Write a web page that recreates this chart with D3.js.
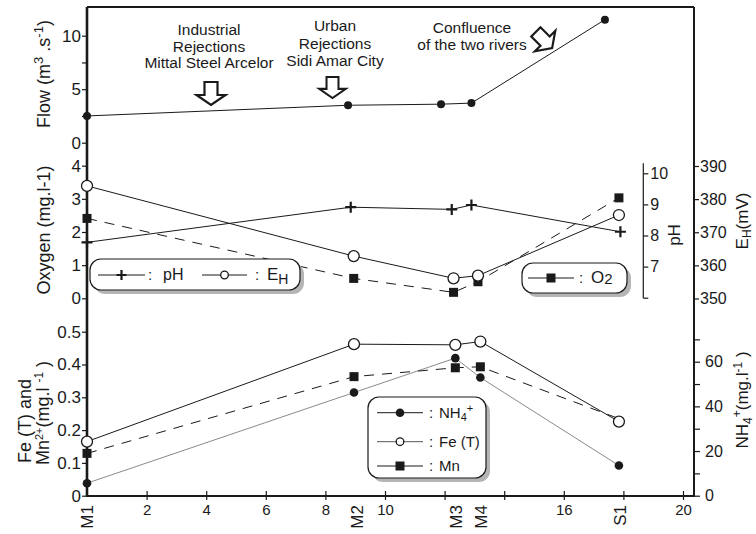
<!DOCTYPE html>
<html><head><meta charset="utf-8">
<script src="https://cdn.jsdelivr.net/npm/d3@7"></script>
<style>body{margin:0;background:#fff}svg{display:block;font-family:"Liberation Sans",Arial,sans-serif}</style>
</head><body><svg id="c" width="756" height="534"></svg>
<script>
// ---------- data ----------
const stations = ["M1","M2","M3","M4","S1"];
const stationLabelPos = [0, 9.05, 12.38, 13.22, 17.88];
const xTickValues = [0,2,4,6,8,10,12,14,16,18,20];
const xTickLabels = ["","2","4","6","8","10","","","16","","20"];

const flowPos = [0, 8.76, 11.88, 12.9, 17.38];
const flow    = [2.5, 3.5, 3.6, 3.7, 11.5];

const pHPos   = [0, 8.85, 12.24, 12.9, 17.9];
const pH      = [7.78, 8.91, 8.84, 8.98, 8.12];
const midPos  = [0, 8.95, 12.3, 13.12, 17.85];
const eh      = [384, 362.8, 356.1, 356.9, 375.2];
const o2      = [2.41, 0.6, 0.18, 0.5, 3.03];

const lowPos  = [0, 8.96, 12.36, 13.2, 17.85];
const nh4     = [5.6, 46.2, 61.6, 52.9, 13.5];
const feT     = [0.165, 0.462, 0.46, 0.47, 0.226];
const mn      = [0.129, 0.363, 0.39, 0.393, 0.235];
const mnMarker = [true, true, true, true, false];

const flowTicks = [0, 2.5, 5, 7.5, 10];
const oxyTicks = [0,1,2,3,4];
const feTicks = [0,0.1,0.2,0.3,0.4,0.5];
const ehTicks = [350,360,370,380,390];
const pHTicks = [6,7,8,9,10];
const nh4Ticks = [0,10,20,30,40,50,60,70];

// ---------- layout ----------
const svg = d3.select("#c");
const L = 87, R = 694, T = 7, B = 496;
const ink = "#1a1a1a";

const x = d3.scaleLinear().domain([0,20]).range([L, 683]);
const yFlow = d3.scaleLinear().domain([0,10]).range([142.7, 35.7]);
const yOxy = d3.scaleLinear().domain([0,4]).range([298.3, 165.7]);
const yEh = d3.scaleLinear().domain([350,390]).range([298.5, 166]);
const yPH = d3.scaleLinear().domain([6,10]).range([297.7, 173.3]);
const yFe = d3.scaleLinear().domain([0,0.5]).range([495.7, 331.7]);
const yNh = d3.scaleLinear().domain([0,60]).range([495.7, 361.7]);

function styleAxis(g, fs){
  g.select(".domain").remove();
  g.selectAll("line").attr("stroke", ink).attr("stroke-width", 1.2);
  g.selectAll("text").attr("fill", ink).style("font-size", fs+"px").style("font-family","Liberation Sans, Arial, sans-serif");
}

// left axes
svg.append("g").attr("transform",`translate(${L},0)`)
  .call(d3.axisLeft(yFlow).tickValues(flowTicks).tickSize(5).tickPadding(1)
    .tickFormat(d => d%5===0 ? d : ""))
  .call(g => styleAxis(g, 17));
svg.append("g").attr("transform",`translate(${L},0)`)
  .call(d3.axisLeft(yOxy).tickValues(oxyTicks).tickSize(5).tickPadding(1)
    .tickFormat(d3.format("d")))
  .call(g => styleAxis(g, 17));
svg.append("g").attr("transform",`translate(${L},0)`)
  .call(d3.axisLeft(yFe).tickValues(feTicks).tickSize(5).tickPadding(1)
    .tickFormat(d => d===0 ? "0" : d.toFixed(1)))
  .call(g => styleAxis(g, 17));

// right axes
svg.append("g").attr("transform",`translate(${R},0)`)
  .call(d3.axisRight(yEh).tickValues(ehTicks).tickSize(5).tickPadding(1)
    .tickFormat(d3.format("d")))
  .call(g => styleAxis(g, 16));
svg.append("g").attr("transform",`translate(${R},0)`)
  .call(d3.axisRight(yNh).tickValues(nh4Ticks).tickSize(6).tickPadding(5)
    .tickFormat(d => d%20===0 ? d : ""))
  .call(g => styleAxis(g, 16));
// pH axis (inner)
svg.append("line").attr("x1",643.3).attr("x2",643.3).attr("y1",163.3).attr("y2",298.3)
  .attr("stroke",ink).attr("stroke-width",1.2);
svg.append("g").attr("transform",`translate(643.3,0)`)
  .call(d3.axisRight(yPH).tickValues(pHTicks).tickSize(5).tickPadding(2)
    .tickFormat(d => d===6 ? "" : d))
  .call(g => styleAxis(g, 16));

// bottom axis
const xa = svg.append("g").attr("transform",`translate(0,${B})`)
  .call(d3.axisBottom(x).tickValues(xTickValues).tickSizeInner(-5).tickSizeOuter(0).tickPadding(8)
    .tickFormat((d,i) => xTickLabels[i]))
  .call(g => styleAxis(g, 15));
xa.selectAll(".tick").append("line").attr("y1",0).attr("y2",4).attr("stroke",ink).attr("stroke-width",1.2);
xa.selectAll(".tick line").filter((d)=>d===0).attr("opacity",0);

// station labels
svg.append("g").selectAll("text").data(stations).join("text")
  .attr("transform",(d,i)=>`translate(${x(stationLabelPos[i])},505) rotate(-90)`)
  .attr("text-anchor","end").attr("dy","0.36em")
  .style("font-size","17px").attr("fill",ink).text(d=>d);

// frame
svg.append("line").attr("x1",L).attr("x2",L).attr("y1",T).attr("y2",B+1).attr("stroke",ink).attr("stroke-width",2.6);
svg.append("line").attr("x1",L).attr("x2",R).attr("y1",T).attr("y2",T).attr("stroke",ink).attr("stroke-width",2);
svg.append("line").attr("x1",R).attr("x2",R).attr("y1",T).attr("y2",B+1).attr("stroke",ink).attr("stroke-width",2);
svg.append("line").attr("x1",L).attr("x2",R).attr("y1",B).attr("y2",B).attr("stroke",ink).attr("stroke-width",2);

// ---------- series helpers ----------
function drawLine(pos, vals, y, opts){
  const pts = vals.map((v,i)=>[x(pos[i]), y(v)]);
  svg.append("path").attr("d", d3.line()(pts)).attr("fill","none")
    .attr("stroke", opts.color || ink).attr("stroke-width", opts.w || 1)
    .attr("stroke-dasharray", opts.dash || null);
  return pts;
}
function markers(pts, type, size, show){
  const g = svg.append("g");
  pts.forEach((p,i)=>{
    if (show && !show[i]) return;
    drawMarker(g, p[0], p[1], type, size);
  });
}
function drawMarker(g, cx, cy, type, size){
  if (type==="dot") g.append("circle").attr("cx",cx).attr("cy",cy).attr("r",size).attr("fill",ink);
  else if (type==="open") g.append("circle").attr("cx",cx).attr("cy",cy).attr("r",size).attr("fill","#fff").attr("stroke",ink).attr("stroke-width",1.3);
  else if (type==="square") g.append("rect").attr("x",cx-size/2).attr("y",cy-size/2).attr("width",size).attr("height",size).attr("fill",ink);
  else if (type==="cross"){
    g.append("path").attr("d",`M${cx-size/2},${cy}H${cx+size/2}M${cx},${cy-size/2}V${cy+size/2}`)
      .attr("stroke",ink).attr("stroke-width",2.2);
  }
}

// flow
markers(drawLine(flowPos, flow, yFlow, {w:1}), "dot", 4);
// middle
const pE = drawLine(midPos, eh, yEh, {w:1});
const pO = drawLine(midPos, o2, yOxy, {w:1, dash:"10,8"});
const pP = drawLine(pHPos, pH, yPH, {w:1});
markers(pO, "square", 9);
markers(pE, "open", 5.5);
markers(pP, "cross", 11);
// bottom
const pN = drawLine(lowPos, nh4, yNh, {w:1, color:"#8a8a8a"});
const pF = drawLine(lowPos, feT, yFe, {w:1});
const pM = drawLine(lowPos, mn, yFe, {w:1, dash:"10,8"});
markers(pM, "square", 9, mnMarker);
markers(pN, "dot", 4.3);
markers(pF, "open", 5.5);

// ---------- legends ----------
function box(x0,y0,w,h){
  svg.append("rect").attr("x",x0+4).attr("y",y0+4).attr("width",w).attr("height",h).attr("rx",11)
    .attr("fill","#b5b5b5");
  svg.append("rect").attr("x",x0).attr("y",y0).attr("width",w).attr("height",h).attr("rx",11)
    .attr("fill","#fff").attr("stroke",ink).attr("stroke-width",1.2);
}
function entry(x1,x2,yy,type,size,color){
  const g = svg.append("g");
  g.append("line").attr("x1",x1).attr("x2",x2).attr("y1",yy).attr("y2",yy).attr("stroke",color||ink).attr("stroke-width",1);
  drawMarker(g,(x1+x2)/2,yy,type,size);
  return g;
}
box(90,259,210,31);
entry(98,145,275,"cross",10);
svg.append("text").attr("x",148).attr("y",280).style("font-size","15px").attr("fill",ink).text(":");
svg.append("text").attr("x",163).attr("y",280).style("font-size","16px").attr("fill",ink).text("pH");
entry(202,247,275,"open",3.8);
svg.append("text").attr("x",255).attr("y",280).style("font-size","15px").attr("fill",ink).text(":");
svg.append("text").attr("x",267).attr("y",280).style("font-size","17px").attr("fill",ink)
  .call(t=>{t.append("tspan").text("E"); t.append("tspan").attr("dy",4).style("font-size","14px").text("H");});

box(522,263,105,30);
entry(528,574,278,"square",9);
svg.append("text").attr("x",579).attr("y",283).style("font-size","15px").attr("fill",ink).text(":");
svg.append("text").attr("x",591).attr("y",283).style("font-size","17px").attr("fill",ink)
  .call(t=>{t.append("tspan").text("O"); t.append("tspan").attr("dy",1).style("font-size","15px").text("2");});

box(368,397,118,81);
entry(377,423,412.7,"dot",4.3);
entry(377,423,441.7,"open",3.8,"#555");
entry(377,423,466,"square",9);
[[412.7,"nh"],[441.7,"Fe (T)"],[466,"Mn"]].forEach(([yy,lab])=>{
  svg.append("text").attr("x",429).attr("y",yy+5).style("font-size","15px").attr("fill",ink).text(":");
  const t = svg.append("text").attr("x",439).attr("y",yy+5).style("font-size","15px").attr("fill",ink);
  if (lab==="nh"){
    t.append("tspan").text("NH");
    t.append("tspan").attr("dy",3).style("font-size","11px").text("4");
    t.append("tspan").attr("dy",-9).style("font-size","11px").text("+");
  } else t.text(lab);
});

// ---------- axis titles ----------
function vtext(cx, cy, fs, build, anchor){
  const t = svg.append("text").attr("transform",`translate(${cx},${cy}) rotate(-90)`)
    .attr("text-anchor", anchor||"middle").style("font-size",fs+"px").attr("fill",ink);
  build(t);
  return t;
}
vtext(50, 74, 18, t=>{
  t.append("tspan").text("Flow (m");
  t.append("tspan").attr("dy",-7).style("font-size","13px").text("3");
  t.append("tspan").attr("dy",7).text(" .s");
  t.append("tspan").attr("dy",-7).style("font-size","13px").text("-1");
  t.append("tspan").attr("dy",7).text(")");
});
vtext(50, 230, 18, t=>t.text("Oxygen (mg.l-1)"));
vtext(31, 421, 18, t=>t.text("Fe (T) and"));
vtext(49, 413, 18, t=>{
  t.append("tspan").text("Mn");
  t.append("tspan").attr("dy",-6).style("font-size","11px").text("2+");
  t.append("tspan").attr("dy",6).text("(mg.l ");
  t.append("tspan").attr("dy",-6).style("font-size","12px").text("-1");
  t.append("tspan").attr("dy",6).text(" )");
});
vtext(680, 235, 17, t=>t.text("pH"));
vtext(748, 221, 17, t=>{
  t.append("tspan").text("E");
  t.append("tspan").attr("dy",3).style("font-size","12px").text("H");
  t.append("tspan").attr("dy",-3).text("(mV)");
});
vtext(748, 400, 17, t=>{
  t.append("tspan").text("NH");
  t.append("tspan").attr("dy",4).style("font-size","12px").text("4");
  t.append("tspan").attr("dy",-11).style("font-size","12px").text("+");
  t.append("tspan").attr("dy",7).text("(mg.l");
  t.append("tspan").attr("dy",-6).style("font-size","12px").text("-1");
  t.append("tspan").attr("dy",6).text(" )");
});

// ---------- annotations ----------
function note(cx, lines, y0, dy){
  lines.forEach((s,i)=>svg.append("text").attr("x",cx).attr("y",y0+i*dy).attr("text-anchor","middle")
    .style("font-size","15.5px").attr("fill",ink).text(s));
}
note(209, ["Industrial","Rejections","Mittal Steel Arcelor"], 35, 16.5);
note(335, ["Urban","Rejections","Sidi Amar City"], 31, 17.5);
note(472, ["Confluence","of the two rivers"], 33, 17);

const arrowD = "M-6.5,-11.5H6.5V1.5H14.5L0,11.5L-14.5,1.5H-6.5Z";
function arrow(cx, cy, rot, s){
  svg.append("path").attr("d",arrowD)
    .attr("transform",`translate(${cx},${cy}) rotate(${rot}) scale(${s})`)
    .attr("fill","#fff").attr("stroke",ink).attr("stroke-width",2.2).attr("stroke-linejoin","miter");
}
arrow(211, 93.5, 0, 1);
arrow(332.5, 87.5, 0, 0.92);
arrow(544, 40, -45, 1);
</script></body></html>
